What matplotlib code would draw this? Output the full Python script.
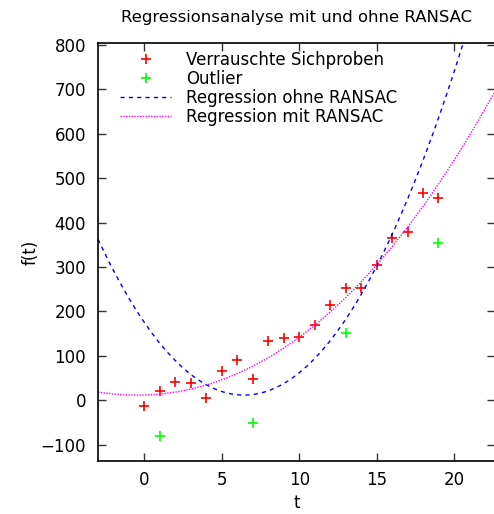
import numpy as np
import matplotlib
matplotlib.use("Agg")
import matplotlib.pyplot as plt

plt.rcParams["font.family"] = ["DejaVu Sans"]

# noisy samples (inliers)
t_in = [0, 1, 2, 3, 4, 5, 6, 7, 8, 9, 10, 11, 12, 13, 14, 15, 16, 17, 18, 19]
f_in = [-13, 20, 42, 40, 5, 65, 91, 49, 133, 140, 143, 169, 215, 252, 254, 305, 366, 378, 467, 456]
# outliers
t_out = [1, 7, 13, 19]
f_out = [-80, -51, 152, 355]

# polynomial coefficients of the two regression curves (highest power first)
coef_ohne = [3.95, -50.8, 175.0]
coef_mit = [0.0072, 1.1234, 1.061, 11.85]

x_ticks = [0, 5, 10, 15, 20]
y_ticks = [-100, 0, 100, 200, 300, 400, 500, 600, 700, 800]
x_range = (-3, 22.65)
y_range = (-136, 804)

fig = plt.figure(figsize=(4.94, 5.14), dpi=100)
ax = fig.add_axes([0.1984, 0.1037, 0.8036, 0.8121])

tt = np.linspace(x_range[0], x_range[1], 500)
ax.plot(t_in, f_in, "+", color="#ff0000", ms=7.5, mew=1.2, label="Verrauschte Sichproben")
ax.plot(t_out, f_out, "+", color="#00ff00", ms=7.5, mew=1.2, label="Outlier")
ax.plot(tt, np.polyval(coef_ohne, tt), color="#0000ff", lw=1.0, ls=(0, (3, 3)),
        label="Regression ohne RANSAC")
ax.plot(tt, np.polyval(coef_mit, tt), color="#ff00ff", lw=1.0, ls=(0, (1, 1)),
        label="Regression mit RANSAC")

ax.set_xlim(*x_range)
ax.set_ylim(*y_range)
ax.set_xticks(x_ticks)
ax.set_yticks(y_ticks)
ax.tick_params(direction="in", top=True, right=True, length=5.8, width=1.0,
               labelsize=12, color="#333333")
ax.tick_params(axis="y", pad=8.6)
ax.tick_params(axis="x", pad=7.3)
for s in ax.spines.values():
    s.set_linewidth(1.2)
ax.set_xlabel("t", fontsize=12, labelpad=4)
ax.set_ylabel("f(t)", fontsize=12, labelpad=0.5)
ax.set_title("Regressionsanalyse mit und ohne RANSAC", fontsize=11.85, pad=15)

ax.legend(loc="upper left", frameon=False, fontsize=12, handlelength=3.06,
          handletextpad=0.88, labelspacing=0.07, borderaxespad=0.0, borderpad=0.0,
          bbox_to_anchor=(0.0556, 0.982))

fig.savefig("out.png", dpi=100)
